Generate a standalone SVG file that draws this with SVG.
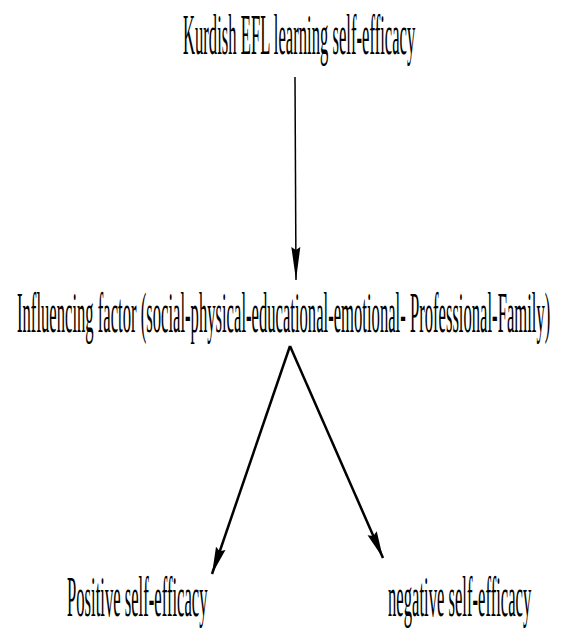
<svg xmlns="http://www.w3.org/2000/svg" width="562" height="630" viewBox="0 0 562 630">
<defs>
<style>
.t{font-family:"Liberation Serif","Times New Roman",serif;font-size:56px;fill:#000}
.c{stroke:#000;fill:none}
</style>
<marker id="ah1" markerUnits="userSpaceOnUse" markerWidth="34" markerHeight="12" viewBox="0 0 34 12" refX="33" refY="6" orient="auto">
<path d="M33,6 L0,1.5 L3,6 L0,10.5 Z" fill="#000"/>
</marker>
<marker id="ah2" markerUnits="userSpaceOnUse" markerWidth="28" markerHeight="14" viewBox="0 0 28 14" refX="27" refY="7" orient="auto">
<path d="M27,7 L0,2 L3,7 L0,12 Z" fill="#000"/>
</marker>
</defs>
<rect width="562" height="630" fill="#fff"/>
<g id="node-title"><text class="t" transform="translate(183,54) scale(0.297,1)">Kurdish EFL learning self-efficacy</text></g>
<g id="node-factor"><text class="t" transform="translate(17,332) scale(0.297,1)">Influencing factor (social-physical-educational-emotional- Professional-Family)</text></g>
<g id="node-positive"><text class="t" transform="translate(67,616) scale(0.297,1)">Positive self-efficacy</text></g>
<g id="node-negative"><text class="t" transform="translate(388,616) scale(0.297,1)">negative self-efficacy</text></g>
<g id="connectors">
<path class="c" d="M295,77 L296,280" stroke-width="1.5" marker-end="url(#ah1)"/>
<path class="c" d="M290,346 L212,574" stroke-width="2.5" marker-end="url(#ah2)"/>
<path class="c" d="M290,346 L383,558" stroke-width="2.5" marker-end="url(#ah2)"/>
</g>
</svg>
